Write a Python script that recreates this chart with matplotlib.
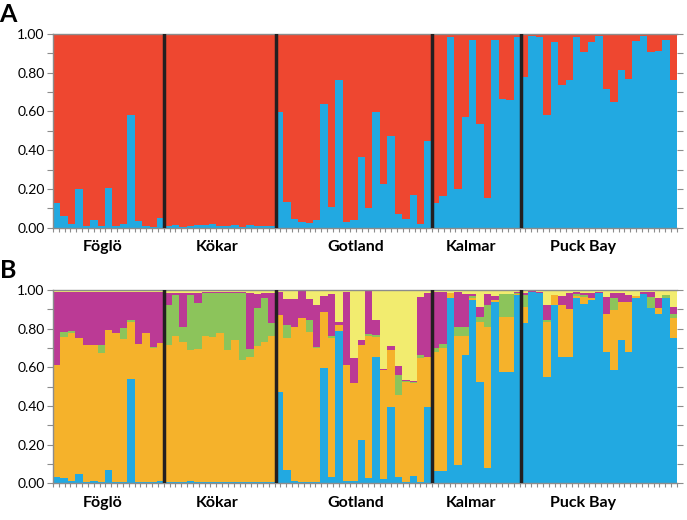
import numpy as np
import matplotlib.pyplot as plt
from matplotlib.transforms import blended_transform_factory

plt.rcParams['font.family'] = ['Lato', 'DejaVu Sans']

# populations, number of individuals, label positions (in individuals)
populations = ['Föglö', 'Kökar', 'Gotland', 'Kalmar', 'Puck Bay']
pop_sizes = [15, 15, 21, 12, 21]
label_x = [6.7, 22.1, 40.8, 56.3, 71.3]

# Panel A (K=2): blue and red cluster membership
blue_A = [
    0.13, 0.06, 0.02, 0.20, 0.01, 0.04, 0.01, 0.205, 0.01, 0.02, 0.58, 0.035, 0.01, 0.005, 0.05,
    0.01, 0.015, 0.005, 0.01, 0.015, 0.015, 0.02, 0.01, 0.01, 0.015, 0.005, 0.015, 0.01, 0.01, 0.01,
    0.595, 0.135, 0.043, 0.031, 0.022, 0.04, 0.64, 0.105, 0.76, 0.028, 0.04, 0.364, 0.10, 0.595,
    0.226, 0.474, 0.07, 0.045, 0.17, 0.02, 0.45,
    0.13, 0.164, 0.983, 0.198, 0.569, 0.97, 0.536, 0.155, 0.97, 0.664, 0.657, 0.983,
    0.776, 0.99, 0.983, 0.58, 0.959, 0.738, 0.764, 0.983, 0.907, 0.959, 0.99, 0.717, 0.648,
    0.812, 0.769, 0.966, 0.99, 0.905, 0.91, 0.97, 0.76,
]
red_A = [
    0.87, 0.94, 0.98, 0.80, 0.99, 0.96, 0.99, 0.795, 0.99, 0.98, 0.42, 0.965, 0.99, 0.995, 0.95,
    0.99, 0.985, 0.995, 0.99, 0.985, 0.985, 0.98, 0.99, 0.99, 0.985, 0.995, 0.985, 0.99, 0.99, 0.99,
    0.405, 0.865, 0.957, 0.969, 0.978, 0.96, 0.36, 0.895, 0.24, 0.972, 0.96, 0.636, 0.90, 0.405,
    0.774, 0.526, 0.93, 0.955, 0.83, 0.98, 0.55,
    0.87, 0.836, 0.017, 0.802, 0.431, 0.03, 0.464, 0.845, 0.03, 0.336, 0.343, 0.017,
    0.224, 0.01, 0.017, 0.42, 0.041, 0.262, 0.236, 0.017, 0.093, 0.041, 0.01, 0.283, 0.352,
    0.188, 0.231, 0.034, 0.01, 0.095, 0.09, 0.03, 0.24,
]

# Panel B (K=5): memberships, bottom to top
blue_B = [
    0.03, 0.028, 0.01, 0.05, 0.005, 0.012, 0.005, 0.07, 0.005, 0.005, 0.54, 0.005, 0.005, 0.005, 0.01,
    0.005, 0.005, 0.005, 0.012, 0.005, 0.005, 0.005, 0.005, 0.005, 0.005, 0.005, 0.005, 0.005, 0.005, 0.005,
    0.474, 0.07, 0.01, 0.005, 0.005, 0.005, 0.595, 0.03, 0.79, 0.01, 0.01, 0.224, 0.025, 0.655,
    0.02, 0.397, 0.03, 0.005, 0.038, 0.005, 0.397,
    0.064, 0.064, 0.96, 0.095, 0.664, 0.948, 0.526, 0.078, 0.94, 0.574, 0.577, 0.974,
    0.828, 0.99, 0.985, 0.552, 0.922, 0.655, 0.655, 0.96, 0.93, 0.948, 0.985, 0.68, 0.586,
    0.741, 0.68, 0.957, 0.98, 0.905, 0.874, 0.957, 0.753,
]
orange_B = [
    0.58, 0.727, 0.766, 0.70, 0.71, 0.703, 0.67, 0.725, 0.775, 0.74, 0.295, 0.715, 0.77, 0.695, 0.715,
    0.71, 0.755, 0.725, 0.678, 0.69, 0.755, 0.75, 0.775, 0.685, 0.735, 0.635, 0.65, 0.705, 0.725, 0.755,
    0.396, 0.68, 0.80, 0.848, 0.78, 0.695, 0.293, 0.72, 0.03, 0.602, 0.507, 0.491, 0.735, 0.10,
    0.566, 0.293, 0.427, 0.521, 0.479, 0.642, 0.258,
    0.616, 0.636, 0.023, 0.665, 0.096, 0.01, 0.31, 0.732, 0.01, 0.288, 0.285, 0.005,
    0.086, 0.0, 0.0, 0.284, 0.052, 0.267, 0.245, 0.01, 0.034, 0.01, 0.0, 0.194, 0.311,
    0.199, 0.26, 0.014, 0.0, 0.0, 0.031, 0.0, 0.10,
]
green_B = [
    0.0, 0.03, 0.012, 0.0, 0.0, 0.0, 0.04, 0.0, 0.0, 0.06, 0.01, 0.0, 0.0, 0.005, 0.0,
    0.205, 0.215, 0.08, 0.285, 0.24, 0.225, 0.23, 0.205, 0.295, 0.245, 0.345, 0.04, 0.195, 0.23, 0.07,
    0.0, 0.07, 0.0, 0.0, 0.06, 0.005, 0.0, 0.01, 0.0, 0.0, 0.0, 0.0, 0.01, 0.01,
    0.0, 0.0, 0.103, 0.004, 0.008, 0.017, 0.0,
    0.02, 0.02, 0.0, 0.05, 0.05, 0.01, 0.026, 0.11, 0.0, 0.115, 0.115, 0.005,
    0.06, 0.0, 0.0, 0.01, 0.0, 0.0, 0.0, 0.01, 0.012, 0.0, 0.0, 0.0, 0.063,
    0.0, 0.0, 0.0, 0.0, 0.061, 0.0, 0.017, 0.021,
]
magenta_B = [
    0.378, 0.203, 0.20, 0.238, 0.273, 0.273, 0.273, 0.193, 0.208, 0.183, 0.143, 0.268, 0.213, 0.283, 0.263,
    0.065, 0.01, 0.175, 0.01, 0.05, 0.005, 0.005, 0.005, 0.005, 0.005, 0.005, 0.29, 0.075, 0.025, 0.155,
    0.118, 0.135, 0.145, 0.142, 0.11, 0.215, 0.082, 0.217, 0.015, 0.376, 0.133, 0.025, 0.225, 0.08,
    0.004, 0.022, 0.047, 0.005, 0.005, 0.302, 0.33,
    0.288, 0.268, 0.0, 0.178, 0.17, 0.01, 0.052, 0.06, 0.02, 0.0, 0.0, 0.006,
    0.01, 0.005, 0.005, 0.074, 0.0, 0.048, 0.085, 0.01, 0.01, 0.025, 0.005, 0.092, 0.022,
    0.043, 0.034, 0.0, 0.01, 0.022, 0.052, 0.0, 0.04,
]
yellow_B = [
    0.012, 0.012, 0.012, 0.012, 0.012, 0.012, 0.012, 0.012, 0.012, 0.012, 0.012, 0.012, 0.012, 0.012, 0.012,
    0.015, 0.015, 0.015, 0.015, 0.015, 0.01, 0.01, 0.01, 0.01, 0.01, 0.01, 0.015, 0.02, 0.015, 0.015,
    0.012, 0.045, 0.045, 0.005, 0.045, 0.08, 0.03, 0.023, 0.165, 0.012, 0.35, 0.26, 0.005, 0.155,
    0.41, 0.288, 0.393, 0.465, 0.47, 0.034, 0.015,
    0.012, 0.012, 0.017, 0.012, 0.02, 0.022, 0.086, 0.02, 0.03, 0.023, 0.023, 0.01,
    0.016, 0.005, 0.01, 0.08, 0.026, 0.03, 0.015, 0.01, 0.014, 0.017, 0.01, 0.034, 0.018,
    0.017, 0.026, 0.029, 0.01, 0.012, 0.043, 0.026, 0.086,
]

RED = '#EE4730'
BLUE = '#22A9E1'
ORANGE = '#F5B22B'
GREEN = '#8CC45B'
MAGENTA = '#BB3A95'
YELLOW = '#F2EC6F'
SEP = '#231F20'
GREY = '#8C8C8C'

fig = plt.figure(figsize=(6.87, 5.2), dpi=100)
ax_a = fig.add_axes([0.0771, 0.5621, 0.9083, 0.3725])
ax_b = fig.add_axes([0.0771, 0.0706, 0.9083, 0.3717])

n = sum(pop_sizes)
x = np.arange(n)
bounds = np.cumsum(pop_sizes)


def stack(ax, layers):
    bottom = np.zeros(n)
    for vals, col in layers:
        vals = np.array(vals)
        ax.bar(x, vals, bottom=bottom, width=1.0, align='edge', color=col, linewidth=0)
        bottom += vals


def style(ax):
    ax.set_xlim(0, n)
    ax.set_ylim(0, 1)
    for b in bounds[:-1]:
        ax.axvline(b, color=SEP, lw=2.5, zorder=3)
    ax.set_yticks(np.arange(0, 1.01, 0.2))
    ax.set_yticklabels([f'{v:.2f}' for v in np.arange(0, 1.01, 0.2)], fontsize=10)
    ax.set_yticks(np.arange(0, 1.01, 0.1), minor=True)
    ax.set_xticks([])
    ax.set_xticks(np.linspace(0, n, 108), minor=True)
    ax.tick_params(axis='y', which='both', direction='out', length=4, width=0.8, color=GREY,
                   right=True, pad=2)
    ax.tick_params(axis='x', which='minor', direction='out', length=3, width=0.8, color=GREY)
    for s in ['left', 'bottom', 'top']:
        ax.spines[s].set_color(GREY)
        ax.spines[s].set_linewidth(1.0)
    ax.spines['right'].set_visible(False)
    trans = blended_transform_factory(ax.transData, ax.transAxes)
    for name, lx in zip(populations, label_x):
        ax.text(lx, -0.1, name, transform=trans, ha='center', va='center',
                fontsize=11.5, fontweight='bold')


stack(ax_a, [(blue_A, BLUE), (red_A, RED)])
stack(ax_b, [(blue_B, BLUE), (orange_B, ORANGE), (green_B, GREEN),
             (magenta_B, MAGENTA), (yellow_B, YELLOW)])
style(ax_a)
style(ax_b)

fig.text(0.012, 0.973, 'A', fontsize=18, fontweight='bold', ha='center', va='center')
fig.text(0.012, 0.479, 'B', fontsize=18, fontweight='bold', ha='center', va='center')

fig.savefig('out.png', dpi=100)
